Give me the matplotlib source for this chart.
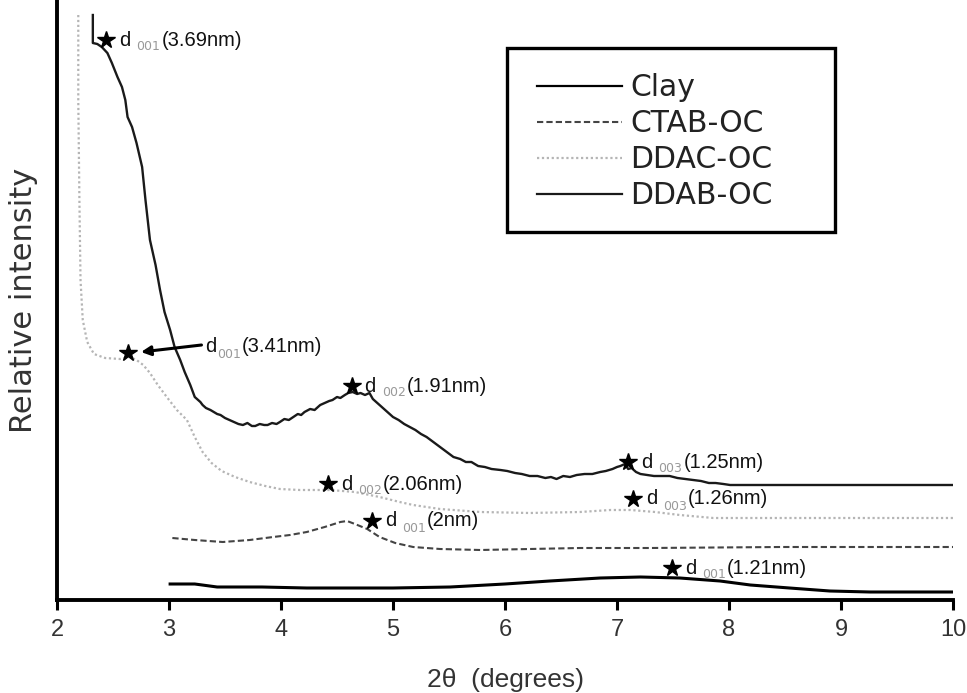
import matplotlib
matplotlib.use("Agg")
import matplotlib.pyplot as plt
from matplotlib.patches import Rectangle
from matplotlib.lines import Line2D

# 数据 (2θ, 相对强度)
clay_x = [3.01, 3.23, 3.43, 3.83, 4.23, 4.53, 5.00, 5.51, 6.00, 6.40, 6.85, 7.21, 7.56, 7.92, 8.19, 8.54, 8.90, 9.26, 10.0]
clay_y = [16, 16, 13, 13, 12, 12, 12, 13, 16, 19, 22, 23, 22, 19, 15, 12, 9, 8, 8]

ctab_x = [3.03, 3.23, 3.48, 3.72, 3.93, 4.08, 4.23, 4.39, 4.53, 4.59, 4.66, 4.77, 4.88, 5.02, 5.18, 5.42, 5.78, 6.22, 6.67, 7.29, 8.46, 10.0]
ctab_y = [62, 60, 58, 60, 63, 65, 68, 73, 78, 79, 76, 71, 63, 57, 53, 51, 50, 51, 52, 52, 53, 53]

ddac_x = [2.19, 2.19, 2.20, 2.21, 2.23, 2.27, 2.33, 2.43, 2.56, 2.65, 2.71, 2.77, 2.83, 2.90, 2.98, 3.07, 3.16, 3.23,
          3.30, 3.38, 3.47, 3.59, 3.72, 3.86, 3.99, 4.17, 4.44, 4.66, 4.88, 5.06, 5.18, 5.42, 5.78, 6.22, 6.67, 6.94,
          7.12, 7.34, 7.56, 7.86, 8.28, 10.0]
ddac_y = [585, 500, 400, 320, 280, 258, 246, 242, 241, 243, 240, 235, 227, 215, 203, 190, 180, 163,
          148, 137, 129, 123, 118, 114, 111, 110, 110, 108, 103, 98, 95, 91, 88, 87, 88, 90,
          90, 88, 85, 82, 82, 82]

ddab_x = [2.32, 2.32, 2.36, 2.40, 2.45, 2.49, 2.54, 2.58, 2.61, 2.63, 2.67, 2.71, 2.76, 2.79, 2.83, 2.88, 2.92, 2.96,
          3.01, 3.05, 3.10, 3.14, 3.19, 3.23, 3.28, 3.30, 3.33, 3.37, 3.40, 3.43, 3.46, 3.50, 3.54, 3.58, 3.62, 3.66,
          3.70, 3.74, 3.77, 3.81, 3.85, 3.88, 3.92, 3.96, 3.99, 4.03, 4.07, 4.11, 4.15, 4.18, 4.21, 4.26, 4.30, 4.35,
          4.39, 4.43, 4.46, 4.50, 4.53, 4.57, 4.60, 4.64, 4.68, 4.71, 4.75, 4.79, 4.82, 4.86, 4.90, 4.93, 4.97, 5.00,
          5.05, 5.10, 5.15, 5.20, 5.25, 5.30, 5.36, 5.42, 5.48, 5.54, 5.60, 5.65, 5.70, 5.76, 5.82, 5.88, 5.96, 6.02,
          6.09, 6.15, 6.22, 6.29, 6.36, 6.41, 6.46, 6.52, 6.58, 6.64, 6.71, 6.78, 6.85, 6.90, 6.96, 7.00, 7.03, 7.07,
          7.10, 7.13, 7.17, 7.21, 7.27, 7.33, 7.40, 7.47, 7.54, 7.61, 7.68, 7.75, 7.82, 7.88, 7.95, 8.01, 10.0]
ddab_y = [585, 557, 556, 553, 547, 537, 523, 513, 500, 483, 473, 457, 433, 400, 360, 335, 310, 288,
          270, 253, 240, 228, 215, 203, 198, 195, 192, 190, 188, 186, 185, 182, 180, 178, 176, 175,
          177, 174, 174, 176, 175, 175, 177, 176, 178, 181, 180, 183, 186, 185, 188, 191, 190, 195,
          197, 199, 200, 203, 202, 205, 207, 208, 206, 207, 205, 207, 201, 197, 193, 190, 186, 183,
          180, 176, 173, 170, 166, 163, 158, 153, 148, 143, 141, 138, 138, 134, 133, 131, 130, 129,
          127, 126, 124, 124, 122, 123, 121, 124, 123, 125, 126, 126, 128, 129, 131, 133, 134, 136,
          131, 132, 128, 126, 125, 124, 124, 124, 122, 121, 120, 119, 117, 117, 116, 115, 115]

# 峰位标注
peak_x = [2.44, 4.63, 4.42, 4.81, 7.10, 7.14, 7.49]
peak_y = [560, 214, 116, 79, 138, 101, 32]
peak_sub = ["001", "002", "002", "001", "003", "003", "001"]
peak_d = ["(3.69nm)", "(1.91nm)", "(2.06nm)", "(2nm)", "(1.25nm)", "(1.26nm)", "(1.21nm)"]
arrow_peak = (2.63, 247)
arrow_text = (3.32, 253)

xticks = [2, 3, 4, 5, 6, 7, 8, 9, 10]
labels = ["Clay", "CTAB-OC", "DDAC-OC", "DDAB-OC"]

W, H = 967, 693
fig = plt.figure(figsize=(W / 100, H / 100), dpi=100)
ax = fig.add_axes([57 / W, (H - 600) / H, 896 / W, 600 / H])

ax.plot(clay_x, clay_y, color="black", lw=2.2)
ax.plot(ctab_x, ctab_y, color="#444444", lw=1.5, ls=(0, (3, 1.5)))
ax.plot(ddac_x, ddac_y, color="#b5b5b5", lw=1.6, ls=(0, (1, 1.2)))
ax.plot(ddab_x, ddab_y, color="#1a1a1a", lw=1.7)

ax.set_xlim(2, 10)
ax.set_ylim(0, 600)
ax.set_yticks([])
ax.set_xticks(xticks)
ax.set_xticklabels([str(t) for t in xticks], family="Liberation Sans", fontsize=17, color="#333333")
ax.tick_params(axis="x", length=7, width=2.2, pad=7, direction="out")
for s in ["top", "right"]:
    ax.spines[s].set_visible(False)
ax.spines["left"].set_linewidth(2.8)
ax.spines["bottom"].set_linewidth(2.8)

TXT = dict(fontsize=14.5, color="#111111", family="Liberation Sans")


def peak_label(x, y, sub, rest):
    ax.plot(x, y, marker="*", ms=13, color="black", ls="none", zorder=5)
    t1 = ax.annotate("d", xy=(x, y), xytext=(13, 0), textcoords="offset pixels",
                     va="center", ha="left", **TXT)
    t2 = ax.annotate(sub, xy=(1, 0), xycoords=t1, xytext=(6, -4), textcoords="offset pixels",
                     va="bottom", ha="left", fontsize=9, color="#999999")
    ax.annotate(rest, xy=(1, 0), xycoords=(t2, t1), xytext=(1, 0), textcoords="offset pixels",
                va="bottom", ha="left", **TXT)


for px, py, sub, rest in zip(peak_x, peak_y, peak_sub, peak_d):
    peak_label(px, py, sub, rest)

# d001(3.41nm) 带箭头
ax.plot(*arrow_peak, marker="*", ms=13, color="black", ls="none", zorder=5)
ax.annotate("", xy=(arrow_peak[0] + 0.12, arrow_peak[1] + 1), xytext=(arrow_text[0] - 0.03, arrow_text[1] + 2),
            arrowprops=dict(arrowstyle="-|>", lw=2.2, color="black", mutation_scale=14, shrinkA=0, shrinkB=0))
t1 = ax.annotate("d", xy=arrow_text, va="center", ha="left", **TXT)
t2 = ax.annotate("001", xy=(1, 0), xycoords=t1, xytext=(1, -4), textcoords="offset pixels",
                 va="bottom", ha="left", fontsize=9, color="#999999")
ax.annotate("(3.41nm)", xy=(1, 0), xycoords=(t2, t1), xytext=(1, 0), textcoords="offset pixels",
            va="bottom", ha="left", **TXT)

# 图例
fig.patches.append(Rectangle((507 / W, 1 - 232 / H), 328 / W, 184 / H, transform=fig.transFigure,
                             fill=False, lw=2.4, ec="black"))
handles = [Line2D([], [], color="black", lw=1.6),
           Line2D([], [], color="#444444", lw=1.5, ls=(0, (3, 1.5))),
           Line2D([], [], color="#b5b5b5", lw=1.6, ls=(0, (1, 1.2))),
           Line2D([], [], color="#1a1a1a", lw=1.6)]
fig.legend(handles, labels, loc="upper left", bbox_to_anchor=(537 / W, 1 - 73 / H), frameon=False,
           prop={"family": "DejaVu Sans", "size": 21.5}, handlelength=2.85, handletextpad=0.27,
           labelspacing=0.24, borderpad=0, borderaxespad=0, labelcolor="#222222")

fig.text(505 / W, 1 - 680 / H, "2θ  (degrees)", ha="center", va="center", fontsize=19,
         family="Liberation Sans", color="#333333")
fig.text(24 / W, 1 - 300 / H, "Relative intensity", ha="center", va="center", rotation=90, fontsize=22,
         family="DejaVu Sans", color="#333333")

fig.savefig("out.png", dpi=100)
